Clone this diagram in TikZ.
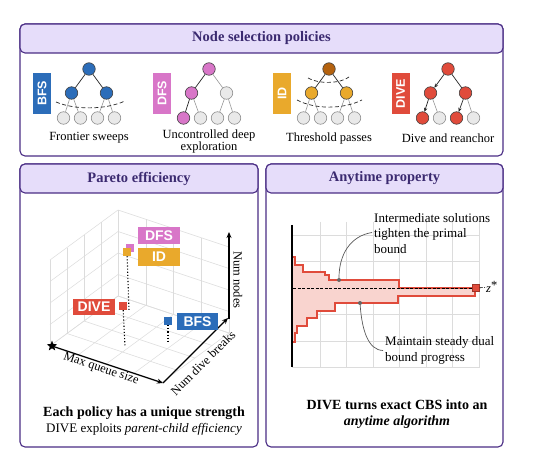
\documentclass[tikz,border=0pt]{standalone}
\usepackage{fontspec}
\setmainfont{Liberation Serif}
\newfontfamily\tagfont{Liberation Sans}
\usetikzlibrary{arrows.meta,calc,shapes.geometric}
\definecolor{pborder}{HTML}{4A2D85}
\definecolor{phead}{HTML}{E6DDFA}
\definecolor{ptext}{HTML}{3B2A70}
\definecolor{cblue}{HTML}{2C6DB9}
\definecolor{cpink}{HTML}{D876C8}
\definecolor{camber}{HTML}{E9A92C}
\definecolor{cred}{HTML}{E04B3B}
\definecolor{cbrown}{HTML}{B4620F}
\definecolor{cgrey}{HTML}{E9E9E9}
\definecolor{gridc}{HTML}{DCDCDC}
\definecolor{fillr}{HTML}{F9D4CF}
\begin{document}
\begin{tikzpicture}[x=1pt,y=-1pt,
  panel/.style={draw=pborder,line width=1.1pt,rounded corners=5pt,fill=white,inner sep=0},
  head/.style={draw=pborder,line width=1.1pt,rounded corners=5pt,fill=phead,text=ptext,font=\fontsize{14.5}{16}\selectfont\bfseries,inner sep=0},
  tag/.style={rotate=90,text=white,font=\tagfont\fontsize{12.5}{14}\selectfont\bfseries,minimum width=41,minimum height=18,inner sep=0},
  tn/.style={circle,draw=black!75,line width=0.6pt,minimum size=12.5,inner sep=0},
  lf/.style={tn,fill=cgrey,draw=black!45},
  edge/.style={draw=black!85,line width=0.7pt},
  edgeg/.style={draw=black!40,line width=0.6pt},
  arr/.style={edge,-{Stealth[length=4pt,width=3.5pt]}},
  lbl/.style={font=\fontsize{12.5}{10}\selectfont,align=center,inner sep=0},
  arc/.style={dashed,line width=0.7pt,black!85,dash pattern=on 4pt off 2.5pt},
  g3/.style={gridc,line width=0.5pt},
  axis3/.style={line width=1.2pt,-{Stealth[length=6pt,width=5pt]}},
  mk/.style={minimum size=8,inner sep=0},
  plab/.style={text=white,font=\tagfont\fontsize{14}{16}\selectfont\bfseries,inner sep=0},
  axl/.style={font=\fontsize{12.5}{14}\selectfont,inner sep=0},
  body/.style={font=\fontsize{13}{15.5}\selectfont,align=center,inner sep=0},
  bold/.style={font=\fontsize{14}{17}\selectfont\bfseries,align=center,inner sep=0},
  conn/.style={black!65,line width=0.7pt},
  dot/.style={circle,fill=black!60,minimum size=4,inner sep=0},
]
\useasboundingbox (0,0) rectangle (540,470);
\fill[white] (0,0) rectangle (540,470);

% ---------- panels ----------
\node[panel,minimum width=483,minimum height=132] (p1) at (261.5,90) {};
\node[head,minimum width=483,minimum height=29] (h1) at (261.5,38.5) {Node selection policies};
\node[panel,minimum width=238,minimum height=283] (p2) at (139,305.5) {};
\node[head,minimum width=238,minimum height=29] (h2) at (139,178.5) {Pareto efficiency};
\node[panel,minimum width=237,minimum height=283] (p3) at (384.5,305.5) {};
\node[head,minimum width=237,minimum height=29] (h3) at (384.5,178.5) {Anytime property};

% ---------- BFS ----------
\node[tag,fill=cblue] (tb) at (42,93.5) {BFS};
\begin{scope}[shift={(89,69)}]
\node[tn,fill=cblue] (b0) at (0,0) {};
\node[tn,fill=cblue] (b1) at (-17.5,24) {};
\node[tn,fill=cblue] (b2) at (17.5,24) {};
\node[lf] (b3) at (-25.5,49) {};
\node[lf] (b4) at (-8.5,49) {};
\node[lf] (b5) at (8.5,49) {};
\node[lf] (b6) at (25.5,49) {};
\end{scope}
\draw[edge] (b0) -- (b1); \draw[edge] (b0) -- (b2);
\draw[edgeg] (b1) -- (b3); \draw[edgeg] (b1) -- (b4);
\draw[edgeg] (b2) -- (b5); \draw[edgeg] (b2) -- (b6);
\draw[arc] (56,102) .. controls (75,110) and (105,110) .. (125,101);
\node[lbl] (lb) at (89,138) {Frontier sweeps};

% ---------- DFS ----------
\node[tag,fill=cpink] (td) at (162,93.5) {DFS};
\begin{scope}[shift={(209,69)}]
\node[tn,fill=cpink] (d0) at (0,0) {};
\node[tn,fill=cpink] (d1) at (-17.5,24) {};
\node[lf] (d2) at (17.5,24) {};
\node[tn,fill=cpink] (d3) at (-25.5,49) {};
\node[lf] (d4) at (-8.5,49) {};
\node[lf] (d5) at (8.5,49) {};
\node[lf] (d6) at (25.5,49) {};
\end{scope}
\draw[edge] (d0) -- (d1); \draw[edgeg] (d0) -- (d2);
\draw[edge] (d1) -- (d3); \draw[edgeg] (d1) -- (d4);
\draw[edgeg] (d2) -- (d5); \draw[edgeg] (d2) -- (d6);
\node[lbl] (ld) at (209,141.5) {Uncontrolled deep\\exploration};

% ---------- ID ----------
\node[tag,fill=camber] (ti) at (282,93.5) {ID};
\begin{scope}[shift={(329,69)}]
\node[tn,fill=cbrown] (i0) at (0,0) {};
\node[tn,fill=camber] (i1) at (-17.5,24) {};
\node[tn,fill=camber] (i2) at (17.5,24) {};
\node[lf] (i3) at (-25.5,49) {};
\node[lf] (i4) at (-8.5,49) {};
\node[lf] (i5) at (8.5,49) {};
\node[lf] (i6) at (25.5,49) {};
\end{scope}
\draw[edge] (i0) -- (i1); \draw[edge] (i0) -- (i2);
\draw[edgeg] (i1) -- (i3); \draw[edgeg] (i1) -- (i4);
\draw[edgeg] (i2) -- (i5); \draw[edgeg] (i2) -- (i6);
\draw[arc] (308,78) .. controls (318,84) and (340,84) .. (349,77);
\draw[arc] (297,100) .. controls (315,109.5) and (343,109.5) .. (362,100);
\node[lbl] (li) at (329,138) {Threshold passes};

% ---------- DIVE ----------
\node[tag,fill=cred] (tv) at (400.5,93.5) {DIVE};
\begin{scope}[shift={(448,69)}]
\node[tn,fill=cred] (v0) at (0,0) {};
\node[tn,fill=cred] (v1) at (-17.5,24) {};
\node[tn,fill=cred] (v2) at (17.5,24) {};
\node[tn,fill=cred] (v3) at (-25.5,49) {};
\node[lf] (v4) at (-8.5,49) {};
\node[tn,fill=cred] (v5) at (8.5,49) {};
\node[lf] (v6) at (25.5,49) {};
\end{scope}
\draw[arr] (v0) -- (v1); \draw[edge] (v0) -- (v2);
\draw[arr] (v1) -- (v3); \draw[edgeg] (v1) -- (v4);
\draw[arr] (v2) -- (v5); \draw[edgeg] (v2) -- (v6);
\node[lbl] (lv) at (448,138) {Dive and reanchor};

% ---------- Pareto 3D plot ----------
\foreach \i in {0,1,2,3,4}{
  \pgfmathsetmacro\ax{50+\i*111/4}\pgfmathsetmacro\ay{346+\i*37/4}
  \draw[g3] (\ax,\ay) -- ++(68,-50);
  \pgfmathsetmacro\bx{50+\i*68/4}\pgfmathsetmacro\by{346-\i*50/4}
  \draw[g3] (\bx,\by) -- ++(111,37);
  \draw[g3] (\bx,\by) -- ++(0,-86);
  \pgfmathsetmacro\cy{346-\i*86/4}
  \draw[g3] (50,\cy) -- ++(68,-50);
  \pgfmathsetmacro\dx{118+\i*111/4}\pgfmathsetmacro\dy{296+\i*37/4}
  \draw[g3] (\dx,\dy) -- ++(0,-86);
  \pgfmathsetmacro\ey{296-\i*86/4}
  \draw[g3] (118,\ey) -- ++(111,37);
}
\coordinate (a0) at (52,346);
\coordinate (a1) at (163,383);
\coordinate (a2) at (228,318);
\coordinate (a3) at (229,319);
\coordinate (a4) at (229,232);
\draw[axis3] (a0) -- (a1);
\draw[axis3] (a1) -- (a2);
\draw[axis3] (a3) -- (a4);
\node[star,star points=5,star point ratio=2.4,fill=black,minimum size=11,inner sep=0] (st) at (a0) {};
\node[axl,rotate=-18.4] (xl) at (101,369) {Max queue size};
\node[axl,rotate=45] (yl) at (203,363) {Num dive breaks};
\node[axl,rotate=-90] (zl) at (238,280) {Num nodes};

\coordinate (id1) at (129,311);
\coordinate (dv1) at (125,347);
\coordinate (bf1) at (168,342);
\node[mk,fill=cpink] (mdfs) at (130,248) {};
\node[mk,fill=camber] (mid) at (127,252) {};
\node[mk,fill=cred] (mdive) at (123,306) {};
\node[mk,fill=cblue] (mbfs) at (168,321) {};
\draw[line width=1.1pt,dotted] (mid) -- (id1);
\draw[line width=1.1pt,dotted] (mdive) -- (dv1);
\draw[line width=1.1pt,dotted] (mbfs) -- (bf1);
\node[plab,fill=cpink,minimum width=42,minimum height=17] (ldfs) at (159,235.5) {DFS};
\node[plab,fill=camber,minimum width=42,minimum height=18] (lid) at (159,257) {ID};
\node[plab,fill=cred,minimum width=42,minimum height=16] (ldive) at (94,307) {DIVE};
\node[plab,fill=cblue,minimum width=41,minimum height=17] (lbfs) at (197.5,321.5) {BFS};

\node[bold] (c2a) at (144,413) {Each policy has a unique strength};
\node[body] (c2b) at (144,429) {DIVE exploits \textit{parent-child efficiency}};

% ---------- Anytime plot ----------
\foreach \x in {320,346.5,373,399.5,426,452.5,479}{\draw[g3] (\x,222) -- (\x,368);}
\foreach \y in {235,261.5,314.5,341,367.5}{\draw[g3] (292,\y) -- (480,\y);}
\fill[fillr] (292,257) -- (295,257) -- (295,265) -- (303,265) -- (303,272) -- (325,272) -- (325,275) -- (329,275) -- (329,280) -- (399,280) -- (399,288) -- (475,288)
  -- (475,296) -- (398,296) -- (398,303) -- (335,303) -- (335,311) -- (317,311) -- (317,318) -- (307,318) -- (307,326) -- (297,326) -- (297,333) -- (295,333) -- (295,342) -- (292,342) -- cycle;
\draw[cred,line width=1.4pt] (292,257) -- (295,257) -- (295,265) -- (303,265) -- (303,272) -- (325,272) -- (325,275) -- (329,275) -- (329,280) -- (399,280) -- (399,288) -- (475,288);
\draw[cred,line width=1.4pt] (292,342) -- (295,342) -- (295,333) -- (297,333) -- (297,326) -- (307,326) -- (307,318) -- (317,318) -- (317,311) -- (335,311) -- (335,303) -- (398,303) -- (398,296) -- (475,296) -- (475,288);
\coordinate (ya) at (292,225);
\coordinate (yb) at (292,367);
\draw[line width=2.2pt] (ya) -- (yb);
\coordinate (z0) at (293,288);
\node[fill=cred,draw=cred!70!black,line width=0.5pt,minimum size=7,inner sep=0] (zs) at (476,288) {};
\node[font=\fontsize{12.5}{14}\selectfont,inner sep=1pt,anchor=west] (zlab) at (485,287) {\textit{z}\raisebox{3pt}{*}};
\draw[dashed,line width=0.6pt,dash pattern=on 3pt off 1.5pt] (z0) -- (zs);
\draw[dashed,line width=0.6pt,dash pattern=on 3pt off 1.5pt] (zs) -- (zlab);

\node[dot] (dp) at (339,280) {};
\node[dot] (dd) at (360,303) {};
\node[body,align=left,anchor=west] (t1) at (374,233.5) {Intermediate solutions\\tighten the primal\\bound};
\node[body,align=left,anchor=west] (t2) at (385,350.5) {Maintain steady dual\\bound progress};
\draw[conn] (dp) .. controls (339,255) and (350,236) .. ([xshift=-2pt,yshift=1pt]t1.west);
\draw[conn] (dd) .. controls (362,330) and (368,350) .. ([xshift=-2pt]t2.west);

\node[bold] (c3a) at (397,405) {DIVE turns exact CBS into an};
\node[bold] (c3b) at (397,422) {\textit{anytime algorithm}};
\end{tikzpicture}
\end{document}
